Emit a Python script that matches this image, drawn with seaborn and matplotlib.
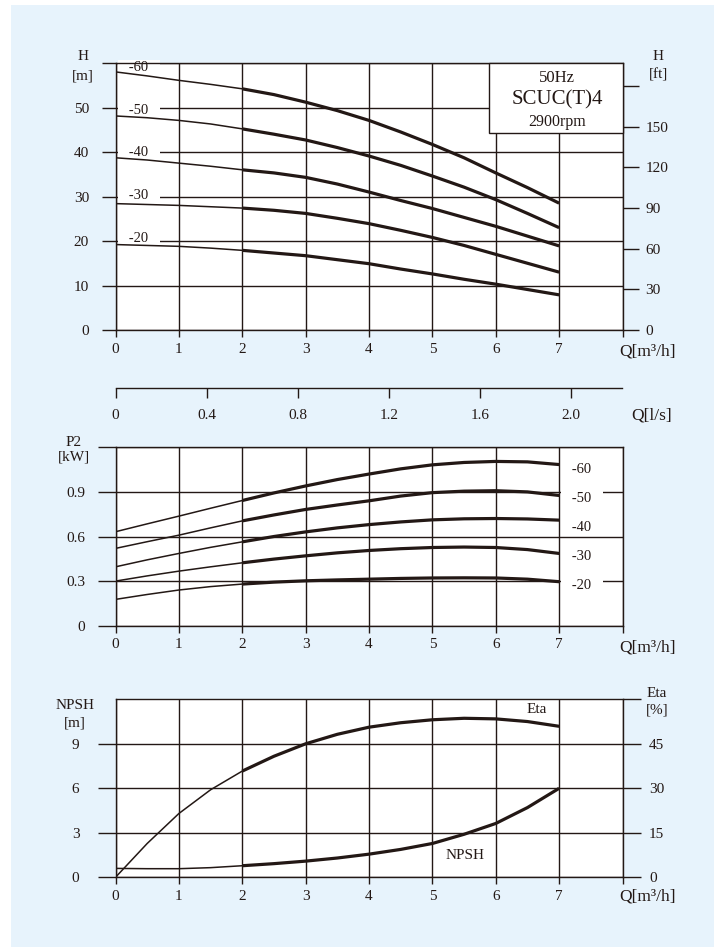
import numpy as np
import pandas as pd
import matplotlib
matplotlib.use("Agg")
import matplotlib.pyplot as plt
import seaborn as sns
from matplotlib.patches import Rectangle

# ---------------- data ----------------
Q = [0, 0.5, 1, 1.5, 2, 2.5, 3, 3.5, 4, 4.5, 5, 5.5, 6, 6.5, 7]
stage_labels = ["-60", "-50", "-40", "-30", "-20"]

H_60 = [58.0, 57.1, 56.1, 55.2, 54.2, 52.9, 51.2, 49.3, 47.1, 44.5, 41.7, 38.7, 35.3, 32.0, 28.5]
H_50 = [48.1, 47.7, 47.1, 46.3, 45.2, 44.0, 42.7, 41.0, 39.1, 37.0, 34.6, 32.1, 29.3, 26.2, 23.0]
H_40 = [38.7, 38.2, 37.5, 36.8, 36.0, 35.3, 34.3, 32.8, 31.0, 29.1, 27.3, 25.3, 23.3, 21.1, 18.9]
H_30 = [28.4, 28.2, 28.0, 27.7, 27.4, 26.9, 26.2, 25.1, 23.9, 22.4, 20.8, 19.0, 17.0, 15.0, 13.0]
H_20 = [19.2, 19.0, 18.8, 18.4, 17.9, 17.3, 16.7, 15.8, 14.9, 13.7, 12.6, 11.4, 10.3, 9.1, 7.9]

P_60 = [0.632, 0.685, 0.737, 0.790, 0.842, 0.893, 0.940, 0.983, 1.020, 1.055, 1.082, 1.098, 1.105, 1.102, 1.084]
P_50 = [0.520, 0.565, 0.609, 0.658, 0.705, 0.745, 0.782, 0.812, 0.840, 0.872, 0.895, 0.905, 0.908, 0.900, 0.876]
P_40 = [0.396, 0.443, 0.486, 0.527, 0.564, 0.600, 0.631, 0.658, 0.680, 0.698, 0.712, 0.719, 0.721, 0.718, 0.710]
P_30 = [0.300, 0.335, 0.367, 0.396, 0.423, 0.448, 0.470, 0.490, 0.506, 0.518, 0.526, 0.529, 0.526, 0.512, 0.486]
P_20 = [0.177, 0.210, 0.240, 0.263, 0.280, 0.293, 0.302, 0.308, 0.313, 0.318, 0.321, 0.322, 0.321, 0.313, 0.296]

ETA = [0.0, 11.4, 21.5, 29.5, 35.8, 40.8, 45.0, 48.2, 50.6, 52.1, 53.1, 53.6, 53.4, 52.5, 50.9]
NPSH = [0.60, 0.58, 0.58, 0.65, 0.78, 0.92, 1.09, 1.30, 1.56, 1.88, 2.28, 2.90, 3.63, 4.70, 6.00]

q_ticks = [0, 1, 2, 3, 4, 5, 6, 7, 8]
q_ticklabels = ["0", "1", "2", "3", "4", "5", "6", "7", ""]
h_ticks = [0, 10, 20, 30, 40, 50, 60]
h_ticklabels = ["0", "10", "20", "30", "40", "50", ""]
ft_ticks = [0, 30, 60, 90, 120, 150, 180]
ft_ticklabels = ["0", "30", "60", "90", "120", "150", ""]
ls_ticks = [0, 0.4, 0.8, 1.2, 1.6, 2.0]
ls_ticklabels = ["0", "0.4", "0.8", "1.2", "1.6", "2.0"]
p_ticks = [0, 0.3, 0.6, 0.9, 1.2]
p_ticklabels = ["0", "0.3", "0.6", "0.9", ""]
n_ticks = [0, 3, 6, 9]
n_ticklabels = ["0", "3", "6", "9"]
eta_ticks = [0, 15, 30, 45, 60]
eta_ticklabels = ["0", "15", "30", "45", ""]

# ---------------- style ----------------
INK = "#231815"
BG = "#E7F3FC"
W, HPX = 714, 947
TICK_FS = 11

sns.set_theme(style="white")
plt.rcParams["font.family"] = ["Liberation Serif", "DejaVu Serif"]
plt.rcParams["text.color"] = INK

fig = plt.figure(figsize=(W / 100, HPX / 100), dpi=100)
fig.patch.set_facecolor("white")
fig.patches.append(Rectangle((11 / W, 0), 1 - 11 / W, 1 - 5 / HPX, transform=fig.transFigure,
                             facecolor=BG, edgecolor="none", zorder=-10))


def ax_px(l, t, r, b):
    return fig.add_axes([l / W, 1 - b / HPX, (r - l) / W, (b - t) / HPX])


def ftext(x, y, s, size=11, **kw):
    fig.text(x / W, 1 - y / HPX, s, ha="center", va="center", fontsize=size, color=INK, **kw)


def style_axes(ax, left_len, left_pad):
    ax.set_facecolor("white")
    for sp in ax.spines.values():
        sp.set_visible(True)
        sp.set_color(INK)
        sp.set_linewidth(1.0)
    ax.set_axisbelow(True)
    ax.grid(True, color=INK, linewidth=1.0)
    ax.tick_params(axis="x", direction="out", length=5, width=1.0, color=INK,
                   labelsize=TICK_FS, labelcolor=INK, pad=4, bottom=True)
    ax.tick_params(axis="y", direction="out", length=left_len, width=1.0, color=INK,
                   labelsize=TICK_FS, labelcolor=INK, pad=left_pad, left=True)
    ax.set_xlabel("")
    ax.set_ylabel("")


def draw_curve(ax, y):
    df = pd.DataFrame({"Q": Q, "v": y})
    thin = df[df["Q"] <= 2]
    thick = df[df["Q"] >= 2]
    sns.lineplot(data=thin, x="Q", y="v", ax=ax, color=INK, linewidth=1.1, zorder=3)
    sns.lineplot(data=thick, x="Q", y="v", ax=ax, color=INK, linewidth=2.3, zorder=3,
                 solid_capstyle="butt")


# ---------------- top chart: H ----------------
ax1 = ax_px(115.5, 63, 622.5, 330)
for s in [H_60, H_50, H_40, H_30, H_20]:
    draw_curve(ax1, s)
ax1.set_xlim(0, 8)
ax1.set_ylim(0, 60)
ax1.set_xticks(q_ticks)
ax1.set_xticklabels(q_ticklabels)
ax1.set_yticks(h_ticks)
ax1.set_yticklabels(h_ticklabels)
style_axes(ax1, 10, 9)

h_label_y = [59.0, 49.4, 39.9, 30.3, 20.6]
for lab, yy in zip(stage_labels, h_label_y):
    ax1.text(0.37, yy, "   " + lab + "   ", ha="center", va="center", fontsize=10.5, color=INK,
             zorder=2, bbox=dict(boxstyle="square,pad=0.05", facecolor="white", edgecolor="none"))

ax1.add_patch(Rectangle((5.89, 44.3), 2.11, 15.7, facecolor="white", edgecolor=INK,
                        linewidth=1.0, zorder=2.6, clip_on=False))
ax1.text(6.97, 56.6, "50Hz", ha="center", va="center", fontsize=12, color=INK, zorder=4)
ax1.text(6.97, 51.7, "SCUC(T)4", ha="center", va="center", fontsize=15, color=INK, zorder=4)
ax1.text(6.97, 46.8, "2900rpm", ha="center", va="center", fontsize=11.5, color=INK, zorder=4)

ax1r = ax1.twinx()
ax1r.set_ylim(0, 60 * 3.28084)
ax1r.set_yticks(ft_ticks)
ax1r.set_yticklabels(ft_ticklabels)
ax1r.grid(False)
for sp in ax1r.spines.values():
    sp.set_visible(False)
ax1r.tick_params(axis="y", direction="out", length=11.5, width=1.0, color=INK,
                 labelsize=TICK_FS, labelcolor=INK, pad=5, right=True)

ftext(83, 57, "H")
ftext(83, 76, "[m]")
ftext(658, 56, "H")
ftext(658, 75, "[ft]")
ftext(647, 352, "Q[m³/h]", size=12.5)

# ---------------- l/s axis ----------------
axs = ax_px(115.5, 370, 622, 388.3)
axs.set_facecolor("none")
for k, sp in axs.spines.items():
    sp.set_visible(k == "bottom")
    sp.set_color(INK)
    sp.set_linewidth(1.0)
axs.set_xlim(0, 8 / 3.6)
axs.set_xticks(ls_ticks)
axs.set_xticklabels(ls_ticklabels)
axs.set_yticks([])
axs.grid(False)
axs.tick_params(axis="x", direction="out", length=7, width=1.0, color=INK,
                labelsize=TICK_FS, labelcolor=INK, pad=8, bottom=True)
ftext(652, 415, "Q[l/s]", size=12.5)

# ---------------- middle chart: P2 ----------------
ax2 = ax_px(115.5, 447.3, 622.5, 625.7)
for s in [P_60, P_50, P_40, P_30, P_20]:
    draw_curve(ax2, s)
ax2.set_xlim(0, 8)
ax2.set_ylim(0, 1.2)
ax2.set_xticks(q_ticks)
ax2.set_xticklabels(q_ticklabels)
ax2.set_yticks(p_ticks)
ax2.set_yticklabels(p_ticklabels)
style_axes(ax2, 13, 9)

p_label_y = [1.052, 0.855, 0.660, 0.468, 0.273]
for lab, yy in zip(stage_labels, p_label_y):
    kw = {}
    if lab != "-40":
        kw["bbox"] = dict(boxstyle="square,pad=0.05", facecolor="white", edgecolor="none")
    ax2.text(7.36, yy, "   " + lab + "   ", ha="center", va="center", fontsize=10.5,
             color=INK, zorder=2, **kw)

ftext(74, 442, "P2")
ftext(74, 457, "[kW]")
ftext(647, 647, "Q[m³/h]", size=12.5)

# ---------------- bottom chart: NPSH / Eta ----------------
ax3 = ax_px(115.5, 699.3, 622.5, 877.3)
ax3.set_xlim(0, 8)
ax3.set_ylim(0, 12)
ax3r = ax3.twinx()
ax3r.set_ylim(0, 60)
draw_curve(ax3r, ETA)
draw_curve(ax3, NPSH)
ax3.set_xticks(q_ticks)
ax3.set_xticklabels(q_ticklabels)
ax3.set_yticks(n_ticks)
ax3.set_yticklabels(n_ticklabels)
style_axes(ax3, 13, 13)
ax3r.set_yticks(eta_ticks)
ax3r.set_yticklabels(eta_ticklabels)
ax3r.set_ylabel("")
ax3r.grid(False)
for sp in ax3r.spines.values():
    sp.set_visible(False)
ax3r.tick_params(axis="y", direction="out", length=13, width=1.0, color=INK,
                 labelsize=TICK_FS, labelcolor=INK, pad=6, right=True)

ax3.text(6.65, 11.28, "Eta", ha="center", va="center", fontsize=11, color=INK)
ax3.text(5.51, 1.5, "NPSH", ha="center", va="center", fontsize=11, color=INK)

ftext(75, 705, "NPSH")
ftext(75, 723, "[m]")
ftext(657, 693, "Eta")
ftext(657, 710, "[%]")
ftext(647, 896, "Q[m³/h]", size=12.5)

fig.savefig("out.png", dpi=100, facecolor=fig.get_facecolor())
